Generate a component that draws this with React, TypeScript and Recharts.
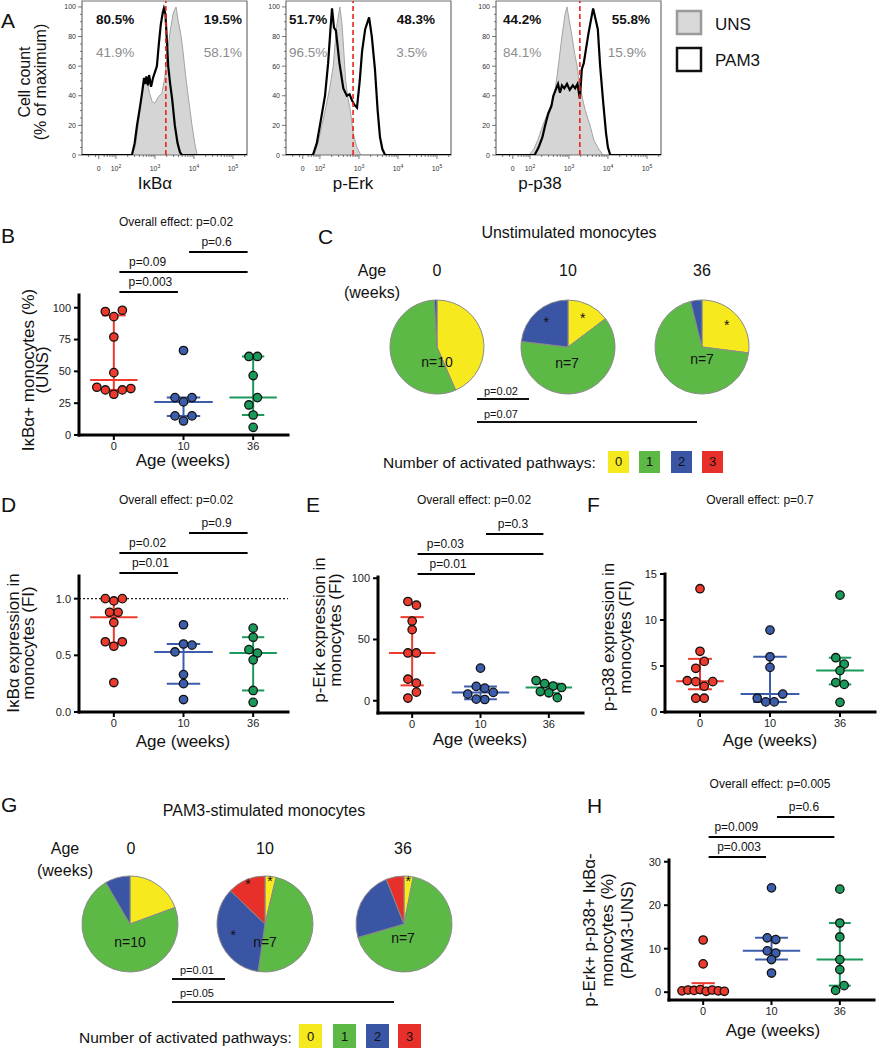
import React from "react";
import {
  ComposedChart,
  Area,
  Line,
  XAxis,
  YAxis,
  ReferenceLine,
  ReferenceArea,
  ScatterChart,
  Scatter,
  PieChart,
  Pie,
  Cell,
} from "recharts";

const FONT = "'Liberation Sans', Arial, Helvetica, sans-serif";

// age groups
const AGES = ["0", "10", "36"];
const AGE_COLORS = ["#ee3a2c", "#3c5dab", "#1a9a5a"];

// pathway legend
const PATHWAYS = ["0", "1", "2", "3"];
const PATHWAY_COLORS = ["#f6ea1e", "#5db946", "#3b55a5", "#e7302a"];

// ---- A: flow histograms, [log10 intensity, % of max]
const IKBA_UNS = [[1.13, 0], [2.41, 0], [2.5, 6], [2.57, 20], [2.65, 38], [2.72, 48], [2.79, 51], [2.86, 42], [2.93, 36], [3.0, 35], [3.08, 39], [3.18, 42], [3.25, 52], [3.32, 70], [3.4, 85], [3.47, 96], [3.54, 100], [3.6, 90], [3.66, 82], [3.72, 70], [3.78, 55], [3.84, 42], [3.9, 30], [3.95, 20], [4.02, 8], [4.08, 0], [5.36, 0]];
const IKBA_PAM3 = [[1.13, 0], [2.41, 0], [2.48, 8], [2.54, 20], [2.62, 33], [2.67, 42], [2.72, 52], [2.75, 48], [2.78, 53], [2.82, 47], [2.85, 54], [2.9, 46], [2.95, 52], [3.0, 56], [3.05, 60], [3.1, 75], [3.15, 88], [3.2, 96], [3.23, 99], [3.27, 95], [3.3, 80], [3.34, 60], [3.39, 48], [3.44, 38], [3.51, 20], [3.58, 8], [3.64, 2], [3.69, 0], [5.36, 0]];
const ERK_UNS = [[1.13, 0], [1.85, 0], [1.95, 8], [2.05, 20], [2.15, 32], [2.25, 45], [2.34, 60], [2.42, 85], [2.51, 100], [2.56, 90], [2.6, 75], [2.66, 50], [2.72, 38], [2.78, 30], [2.85, 15], [2.95, 5], [3.05, 0], [5.36, 0]];
const ERK_PAM3 = [[1.13, 0], [1.82, 0], [1.92, 8], [2.0, 20], [2.13, 40], [2.21, 62], [2.27, 85], [2.31, 99], [2.36, 86], [2.41, 84], [2.5, 62], [2.6, 45], [2.69, 40], [2.76, 41], [2.82, 37], [2.88, 34], [2.95, 32], [3.02, 50], [3.08, 70], [3.16, 85], [3.26, 93], [3.33, 80], [3.41, 58], [3.48, 30], [3.54, 12], [3.6, 4], [3.67, 0], [5.36, 0]];
const P38_UNS = [[1.13, 0], [1.98, 0], [2.1, 4], [2.2, 10], [2.33, 20], [2.48, 30], [2.6, 38], [2.68, 50], [2.75, 65], [2.82, 80], [2.9, 95], [2.95, 100], [3.0, 92], [3.08, 80], [3.15, 68], [3.21, 60], [3.27, 48], [3.33, 40], [3.42, 30], [3.54, 20], [3.64, 10], [3.74, 5], [3.87, 0], [5.36, 0]];
const P38_PAM3 = [[1.13, 0], [2.12, 0], [2.22, 5], [2.32, 12], [2.39, 20], [2.47, 28], [2.55, 33], [2.6, 40], [2.66, 44], [2.72, 48], [2.77, 42], [2.82, 47], [2.88, 45], [2.95, 48], [3.02, 44], [3.1, 47], [3.16, 45], [3.22, 48], [3.28, 38], [3.33, 58], [3.38, 62], [3.44, 72], [3.5, 82], [3.57, 92], [3.62, 99], [3.68, 92], [3.74, 85], [3.8, 60], [3.88, 35], [3.95, 15], [4.0, 5], [4.06, 0], [5.36, 0]];
const HIST_GATES = [3.28, 2.85, 3.28];
const HIST_TITLES = ["IκBα", "p-Erk", "p-p38"];
const PAM3_LEFT = ["80.5%", "51.7%", "44.2%"];
const PAM3_RIGHT = ["19.5%", "48.3%", "55.8%"];
const UNS_LEFT = ["41.9%", "96.5%", "84.1%"];
const UNS_RIGHT = ["58.1%", "3.5%", "15.9%"];
const HIST_Y_TICKS = [0, 20, 40, 60, 80, 100];
const HIST_X_TICKS = [1.56, 2, 3, 4, 5];
const HIST_X_LABELS = ["0", "2", "3", "4", "5"];

// ---- B: IkBa+ monocytes (%), UNS
const B_0 = [97, 93, 98, 77, 49, 37.5, 35.4, 32, 35.4, 36.5];
const B_10 = [66.4, 29.4, 26, 29.4, 15, 11, 15];
const B_36 = [61.7, 61.7, 46.7, 23.6, 29.4, 15.7, 6];

// ---- D: IkBa expression (FI)
const D_0 = [1.0, 0.98, 1.0, 0.88, 0.88, 0.79, 0.62, 0.58, 0.62, 0.26];
const D_10 = [0.77, 0.53, 0.6, 0.59, 0.33, 0.25, 0.11];
const D_36 = [0.74, 0.66, 0.46, 0.55, 0.52, 0.19, 0.085];

// ---- E: p-Erk expression (FI)
const E_0 = [81, 78, 65, 58, 39, 39, 17.6, 14.4, 2.2, 7];
const E_10 = [26.6, 5.4, 11.7, 10.3, 6.8, 1.3, 1.0];
const E_36 = [16.5, 14, 12, 10.8, 7.5, 6.5, 2.5];

// ---- F: p-p38 expression (FI)
const F_0 = [13.4, 6.6, 4.75, 5.5, 3.4, 3.3, 2.8, 3.3, 1.5, 1.5];
const F_10 = [8.9, 6.0, 4.85, 1.5, 1.1, 1.1, 1.95];
const F_36 = [12.7, 5.9, 5.2, 4.5, 3.2, 3.0, 1.05];

// ---- H: p-Erk+ p-p38+ IkBa- monocytes (%), PAM3-UNS
const H_0 = [12, 6.5, 0.3, 0.5, 0.4, 0.6, 0.2, 0.5, 0.3, 0.2];
const H_10 = [24, 12.5, 12.1, 9.5, 9.0, 7.5, 4.4];
const H_36 = [23.7, 15.9, 12.7, 7.5, 5.2, 0.4, 1.5];

// ---- C / G: % of cells by number of activated pathways (0,1,2,3)
const C_PIE_0 = [43.5, 55.6, 0.9, 0];
const C_PIE_10 = [14.7, 62.2, 23.1, 0];
const C_PIE_36 = [27.0, 69.1, 3.9, 0];
const C_STARS = [[], [0, 2], [0]];
const G_PIE_0 = [19.4, 72.2, 8.4, 0];
const G_PIE_10 = [3.7, 48.6, 34.9, 12.8];
const G_PIE_36 = [3.1, 67.4, 23.5, 6.0];
const G_STARS = [[], [0, 2, 3], [0]];
const PIE_N = [10, 7, 7];

const DOT_D = 8.5;
const SIG_RISE = [3, 23, 43];
const MEDIAN_HALF = [0.34, 0.42, 0.34];
const CAP_HALF = [0.17, 0.24, 0.16];

const AXIS_LINE = { stroke: "#000", strokeWidth: 3, strokeLinecap: "square" };
const TICK_LINE = { stroke: "#000", strokeWidth: 2 };
const TICK_STYLE = { fontSize: 11, fill: "#222", fontFamily: FONT };

function quantile(s: number[], p: number) {
  const n = s.length;
  const pos = p * (n + 1);
  if (pos <= 1) return s[0];
  if (pos >= n) return s[n - 1];
  const lo = Math.floor(pos);
  return s[lo - 1] + (pos - lo) * (s[lo] - s[lo - 1]);
}

function stats(vals: number[]) {
  const s = [...vals].sort((a, b) => a - b);
  return { med: quantile(s, 0.5), q1: quantile(s, 0.25), q3: quantile(s, 0.75) };
}

// prism-like rows: values close in y are spread sideways
function swarm(vals: number[], gi: number, pxY: number, band: number) {
  const order = vals.map((_, i) => i).sort((a, b) => vals[b] - vals[a]);
  const rows: number[][] = [];
  let first = Infinity;
  for (const i of order) {
    if (!rows.length || (first - vals[i]) * pxY > DOT_D) {
      rows.push([i]);
      first = vals[i];
    } else rows[rows.length - 1].push(i);
  }
  const pts: { x: number; y: number }[] = [];
  rows.forEach((row) => {
    row.sort((a, b) => a - b);
    const n = row.length;
    const step = n > 1 ? Math.min(DOT_D, (band * 0.62) / (n - 1)) : 0;
    row.forEach((i, k) => pts.push({ x: gi + ((k - (n - 1) / 2) * step) / band, y: vals[i] }));
  });
  return pts;
}

const sigLabel = (text: string, at: number) => (props: any) => {
  const vb = props.viewBox || { x: 0, y: 0, width: 0 };
  return (
    <text x={vb.x + vb.width * at} y={vb.y - 6} textAnchor="middle" fontSize={12} fill="#111" fontFamily={FONT}>
      {text}
    </text>
  );
};

function DotPlot({ axisX, plotTop, plotBottom, plotRight, domain, ticks, fmt, groups, sig = [], refY }: any) {
  const yW = 44;
  const xH = 26;
  const head = 70;
  const plotW = plotRight - axisX;
  const plotH = plotBottom - plotTop;
  const width = yW + plotW + 3;
  const height = head + plotH + xH;
  const pxY = plotH / (domain[1] - domain[0]);
  const band = plotW / 3;
  const lvl = (k: number) => domain[1] + SIG_RISE[k] / pxY;

  return (
    <div style={{ position: "absolute", left: axisX - yW, top: plotTop - head }}>
      <ScatterChart width={width} height={height} margin={{ top: head, right: 3, bottom: 0, left: 0 }}>
        <XAxis
          type="number"
          dataKey="x"
          domain={[-0.5, 2.5]}
          ticks={[0, 1, 2]}
          interval={0}
          allowDataOverflow
          tickFormatter={(v: number) => AGES[v]}
          height={xH}
          axisLine={AXIS_LINE}
          tickLine={TICK_LINE}
          tickSize={5}
          tickMargin={2}
          tick={TICK_STYLE}
        />
        <YAxis
          type="number"
          dataKey="y"
          domain={domain}
          ticks={ticks}
          interval={0}
          allowDataOverflow
          tickFormatter={fmt}
          width={yW}
          axisLine={AXIS_LINE}
          tickLine={TICK_LINE}
          tickSize={5}
          tickMargin={3}
          tick={TICK_STYLE}
        />
        {refY !== undefined && (
          <ReferenceLine y={refY} stroke="#222" strokeDasharray="2 2" strokeWidth={1.2} />
        )}
        {groups.map((vals: number[], gi: number) => {
          const s = stats(vals);
          const c = AGE_COLORS[gi];
          return (
            <React.Fragment key={"st" + gi}>
              <ReferenceLine segment={[{ x: gi, y: s.q1 }, { x: gi, y: s.q3 }]} stroke={c} strokeWidth={2} />
              <ReferenceLine segment={[{ x: gi - CAP_HALF[gi], y: s.q1 }, { x: gi + CAP_HALF[gi], y: s.q1 }]} stroke={c} strokeWidth={2} />
              <ReferenceLine segment={[{ x: gi - CAP_HALF[gi], y: s.q3 }, { x: gi + CAP_HALF[gi], y: s.q3 }]} stroke={c} strokeWidth={2} />
              <ReferenceLine segment={[{ x: gi - MEDIAN_HALF[gi], y: s.med }, { x: gi + MEDIAN_HALF[gi], y: s.med }]} stroke={c} strokeWidth={2} />
            </React.Fragment>
          );
        })}
        {sig.map((b: any, i: number) => (
          <ReferenceLine
            key={"sig" + i}
            segment={[{ x: b.from + 0.08, y: lvl(b.level) }, { x: b.to - 0.08, y: lvl(b.level) }]}
            stroke="#000"
            strokeWidth={2}
            ifOverflow="visible"
            label={sigLabel(b.text, b.at)}
          />
        ))}
        {groups.map((vals: number[], gi: number) => (
          <Scatter
            key={"sc" + gi}
            data={swarm(vals, gi, pxY, band)}
            isAnimationActive={false}
            shape={(p: any) => (
              <circle cx={p.cx} cy={p.cy} r={4.2} fill={AGE_COLORS[gi]} stroke="#111" strokeWidth={1.3} />
            )}
          />
        ))}
      </ScatterChart>
    </div>
  );
}

const toPts = (arr: number[][]) => arr.map(([x, y]) => ({ x, y }));

const HIST_Y_ALL = [0, 5, 10, 15, 20, 25, 30, 35, 40, 45, 50, 55, 60, 65, 70, 75, 80, 85, 90, 95, 100];
const HIST_X_MINOR = [1, 2, 3, 4, 5]
  .flatMap((d) => [2, 3, 4, 5, 6, 7, 8, 9].map((k) => d + Math.log10(k)))
  .filter((v) => v > 1.16 && v < 5.34 && Math.abs(v - 1.56) > 0.06);
const HIST_X_ALL = [...HIST_X_TICKS, ...HIST_X_MINOR].sort((a, b) => a - b);

function HistYTick({ x, y, payload }: any) {
  const major = HIST_Y_TICKS.includes(payload.value);
  return (
    <g>
      <line x1={x - (major ? 4 : 2)} x2={x} y1={y} y2={y} stroke="#555" strokeWidth={0.8} />
      {major && (
        <text x={x - 6} y={y + 2.5} textAnchor="end" fontSize={7} fill="#333" fontFamily={FONT}>
          {payload.value}
        </text>
      )}
    </g>
  );
}

function HistXTick({ x, y, payload }: any) {
  const i = HIST_X_TICKS.indexOf(payload.value);
  const lab = i >= 0 ? HIST_X_LABELS[i] : null;
  return (
    <g>
      <line x1={x} x2={x} y1={y} y2={y + (lab ? 4 : 2)} stroke="#555" strokeWidth={0.8} />
      {lab && (
        <text x={x} y={y + 16} textAnchor="middle" fontSize={7} fill="#333" fontFamily={FONT}>
          {lab === "0" ? "0" : (
            <>
              10<tspan dy={-3.5} fontSize={5}>{lab}</tspan>
            </>
          )}
        </text>
      )}
    </g>
  );
}

function Histogram({ left, uns, pam3, gate }: any) {
  const yW = 22;
  const plotW = 165;
  const plotH = 154;
  const xH = 20;
  return (
    <div style={{ position: "absolute", left: left - yW, top: 0 }}>
      <ComposedChart
        width={yW + plotW + 4}
        height={1 + plotH + xH}
        data={toPts(uns)}
        margin={{ top: 1, right: 4, left: 0, bottom: 0 }}
      >
        <XAxis
          type="number"
          dataKey="x"
          domain={[1.13, 5.36]}
          ticks={HIST_X_ALL}
          interval={0}
          allowDataOverflow
          height={xH}
          axisLine={false}
          tickLine={false}
          tickSize={0}
          tickMargin={0}
          tick={<HistXTick />}
        />
        <YAxis
          type="number"
          domain={[0, 104]}
          ticks={HIST_Y_ALL}
          interval={0}
          allowDataOverflow
          width={yW}
          axisLine={false}
          tickLine={false}
          tickSize={0}
          tickMargin={0}
          tick={<HistYTick />}
        />
        <Area
          type="linear"
          dataKey="y"
          fill="#d5d5d5"
          fillOpacity={1}
          stroke="#a3a3a3"
          strokeWidth={1}
          isAnimationActive={false}
        />
        <Line
          type="linear"
          data={toPts(pam3)}
          dataKey="y"
          stroke="#000"
          strokeWidth={2.2}
          dot={false}
          isAnimationActive={false}
        />
        <ReferenceLine x={gate} stroke="#e8231e" strokeDasharray="5 3" strokeWidth={1.6} />
        <ReferenceArea x1={1.13} x2={5.36} y1={0} y2={104} fill="none" stroke="#707070" strokeWidth={1.2} />
      </ComposedChart>
    </div>
  );
}

function starLabel(lp: any, data: any[]) {
  const d = data[lp.index];
  if (!d || !d.star) return null;
  const rad = Math.PI / 180;
  const rr = lp.outerRadius * (d.value < 13 ? 0.9 : 0.7);
  const x = lp.cx + rr * Math.cos(-lp.midAngle * rad);
  const y = lp.cy + rr * Math.sin(-lp.midAngle * rad);
  return (
    <text x={x} y={y + 5} textAnchor="middle" fontSize={14} fill="#111" fontFamily={FONT}>
      *
    </text>
  );
}

function PieRow({ left, top, width, height, centers, cy, r, sets, stars }: any) {
  return (
    <div style={{ position: "absolute", left, top }}>
      <PieChart width={width} height={height} margin={{ top: 0, right: 0, bottom: 0, left: 0 }}>
        {sets.map((vals: number[], pi: number) => {
          const data = vals
            .map((v, k) => ({ name: PATHWAYS[k], value: v, k, star: stars[pi].includes(k) }))
            .filter((d) => d.value > 0);
          return (
            <Pie
              key={pi}
              data={data}
              dataKey="value"
              cx={centers[pi]}
              cy={cy}
              outerRadius={r}
              startAngle={90}
              endAngle={-270}
              stroke="#8a8a8a"
              strokeWidth={1}
              isAnimationActive={false}
              labelLine={false}
              label={(lp: any) => starLabel(lp, data)}
            >
              {data.map((d) => (
                <Cell key={d.k} fill={PATHWAY_COLORS[d.k]} />
              ))}
            </Pie>
          );
        })}
      </PieChart>
    </div>
  );
}

function VText({ x, y, size = 17, children }: any) {
  return (
    <text transform={`translate(${x},${y}) rotate(-90)`} textAnchor="middle" fontSize={size} fill="#111">
      {children}
    </text>
  );
}

function PathwayLegend({ x, y, boxes, w, h, size }: any) {
  return (
    <g>
      <text x={x} y={y} fontSize={size} fill="#111">
        Number of activated pathways:
      </text>
      {boxes.map((bx: number, k: number) => (
        <g key={k}>
          <rect x={bx} y={y - h + 5} width={w} height={h} fill={PATHWAY_COLORS[k]} />
          <text x={bx + w / 2} y={y - 2} textAnchor="middle" fontSize={13} fill="#111">
            {PATHWAYS[k]}
          </text>
        </g>
      ))}
    </g>
  );
}

const HIST_LEFT = [82, 286, 496];
const HIST_PCT_L = [96, 289, 503];
const HIST_PCT_R = [242, 435, 650];
const HIST_UNS_R = [242, 427, 646];
const HIST_TITLE_X = [155, 353, 540];

function Overlay() {
  return (
    <svg
      width={877}
      height={1050}
      style={{ position: "absolute", left: 0, top: 0, pointerEvents: "none" }}
      fontFamily={FONT}
    >
      {/* panel letters */}
      {[["A", 1, 28], ["B", 1, 243], ["C", 318, 244], ["D", 1, 512], ["E", 306, 512], ["F", 587, 512], ["G", 1, 812], ["H", 587, 813]].map(
        ([t, x, y]: any) => (
          <text key={t} x={x} y={y} fontSize={21} fill="#111">
            {t}
          </text>
        )
      )}

      {/* A */}
      <VText x={30} y={82} size={16}>Cell count</VText>
      <VText x={46} y={82} size={16}>(% of maximum)</VText>
      {HIST_LEFT.map((_, i) => (
        <g key={i}>
          <text x={HIST_PCT_L[i]} y={24} fontSize={13.5} fontWeight="bold" fill="#111">{PAM3_LEFT[i]}</text>
          <text x={HIST_PCT_R[i]} y={24} fontSize={13.5} fontWeight="bold" fill="#111" textAnchor="end">{PAM3_RIGHT[i]}</text>
          <text x={HIST_PCT_L[i]} y={57} fontSize={13.5} fill="#8c8c8c">{UNS_LEFT[i]}</text>
          <text x={HIST_UNS_R[i]} y={57} fontSize={13.5} fill="#8c8c8c" textAnchor="end">{UNS_RIGHT[i]}</text>
          <text x={HIST_TITLE_X[i]} y={189} fontSize={17} fill="#111" textAnchor="middle">{HIST_TITLES[i]}</text>
        </g>
      ))}
      <rect x={677} y={11} width={24} height={23} fill="#d9d9d9" stroke="#9a9a9a" strokeWidth={2.5} />
      <rect x={677} y={48} width={24} height={23} fill="#fff" stroke="#111" strokeWidth={2.5} />
      <text x={715} y={30} fontSize={17} fill="#111">UNS</text>
      <text x={715} y={66} fontSize={17} fill="#111">PAM3</text>

      {/* overall effects */}
      <text x={176} y={226} fontSize={12} textAnchor="middle" fill="#111">Overall effect: p=0.02</text>
      <text x={176} y={504} fontSize={12} textAnchor="middle" fill="#111">Overall effect: p=0.02</text>
      <text x={474} y={504} fontSize={12} textAnchor="middle" fill="#111">Overall effect: p=0.02</text>
      <text x={760} y={504} fontSize={12} textAnchor="middle" fill="#111">Overall effect: p=0.7</text>
      <text x={770} y={788} fontSize={12} textAnchor="middle" fill="#111">Overall effect: p=0.005</text>

      {/* y titles */}
      <VText x={34} y={370}>IκBα+ monocytes (%)</VText>
      <VText x={48} y={370}>(UNS)</VText>
      <VText x={19} y={643}>IκBα expression in</VText>
      <VText x={34} y={643}>monocytes (FI)</VText>
      <VText x={325} y={630}>p-Erk expression in</VText>
      <VText x={341} y={630}>monocytes (FI)</VText>
      <VText x={614} y={637}>p-p38 expression in</VText>
      <VText x={631} y={637}>monocytes (FI)</VText>
      <VText x={595} y={930}>p-Erk+ p-p38+ IκBα-</VText>
      <VText x={613} y={930}>monocytes (%)</VText>
      <VText x={633} y={930}>(PAM3-UNS)</VText>

      {/* x titles */}
      {[[183, 466], [183, 747], [480, 745], [770, 746], [773, 1036]].map(([x, y], i) => (
        <text key={i} x={x} y={y} fontSize={17} textAnchor="middle" fill="#111">Age (weeks)</text>
      ))}

      {/* C */}
      <text x={569} y={238} fontSize={16} textAnchor="middle" fill="#111">Unstimulated monocytes</text>
      <text x={372} y={276} fontSize={16} textAnchor="middle" fill="#111">Age</text>
      <text x={372} y={298} fontSize={16} textAnchor="middle" fill="#111">(weeks)</text>
      {[437, 568, 702].map((x, i) => (
        <text key={i} x={x} y={276} fontSize={16} textAnchor="middle" fill="#111">{AGES[i]}</text>
      ))}
      {[[437, 367], [567, 368], [702, 364]].map(([x, y], i) => (
        <text key={i} x={x} y={y} fontSize={14} textAnchor="middle" fill="#111">{`n=${PIE_N[i]}`}</text>
      ))}
      <text x={484} y={395} fontSize={11} fill="#111">p=0.02</text>
      <line x1={477} x2={529} y1={399} y2={399} stroke="#111" strokeWidth={1.8} />
      <text x={484} y={418} fontSize={11} fill="#111">p=0.07</text>
      <line x1={477} x2={697} y1={422} y2={422} stroke="#111" strokeWidth={1.8} />
      <PathwayLegend x={383} y={468} boxes={[608, 639, 671, 702]} w={21} h={22} size={15.5} />

      {/* G */}
      <text x={264} y={816} fontSize={16} textAnchor="middle" fill="#111">PAM3-stimulated monocytes</text>
      <text x={65} y={854} fontSize={16} textAnchor="middle" fill="#111">Age</text>
      <text x={65} y={876} fontSize={16} textAnchor="middle" fill="#111">(weeks)</text>
      {[131, 265, 403].map((x, i) => (
        <text key={i} x={x} y={854} fontSize={16} textAnchor="middle" fill="#111">{AGES[i]}</text>
      ))}
      {[[130, 947], [265, 947], [403, 943]].map(([x, y], i) => (
        <text key={i} x={x} y={y} fontSize={14} textAnchor="middle" fill="#111">{`n=${PIE_N[i]}`}</text>
      ))}
      <text x={180} y={974} fontSize={11} fill="#111">p=0.01</text>
      <line x1={172} x2={225} y1={979} y2={979} stroke="#111" strokeWidth={1.8} />
      <text x={180} y={997} fontSize={11} fill="#111">p=0.05</text>
      <line x1={172} x2={394} y1={1002} y2={1002} stroke="#111" strokeWidth={1.8} />
      <PathwayLegend x={79} y={1043} boxes={[299, 333, 366, 398]} w={23} h={24} size={15.5} />
    </svg>
  );
}

const SIG_BCD = (a: string, b: string, c: string) => [
  { from: 0, to: 1, level: 0, text: a, at: 0.53 },
  { from: 0, to: 2, level: 1, text: b, at: 0.22 },
  { from: 1, to: 2, level: 2, text: c, at: 0.47 },
];

export default function App() {
  const hists = [
    [IKBA_UNS, IKBA_PAM3],
    [ERK_UNS, ERK_PAM3],
    [P38_UNS, P38_PAM3],
  ];
  return (
    <div
      style={{
        position: "absolute",
        left: 0,
        top: 0,
        width: 877,
        height: 1050,
        background: "#fff",
        overflow: "hidden",
        fontFamily: FONT,
      }}
    >
      {hists.map(([u, p], i) => (
        <Histogram key={i} left={HIST_LEFT[i]} uns={u} pam3={p} gate={HIST_GATES[i]} />
      ))}

      <DotPlot
        axisX={79}
        plotTop={295}
        plotBottom={435}
        plotRight={288}
        domain={[0, 110]}
        ticks={[0, 25, 50, 75, 100]}
        groups={[B_0, B_10, B_36]}
        sig={SIG_BCD("p=0.003", "p=0.09", "p=0.6")}
      />
      <DotPlot
        axisX={79}
        plotTop={576}
        plotBottom={712}
        plotRight={288}
        domain={[0, 1.2]}
        ticks={[0, 0.5, 1]}
        fmt={(v: number) => v.toFixed(1)}
        groups={[D_0, D_10, D_36]}
        refY={1}
        sig={SIG_BCD("p=0.01", "p=0.02", "p=0.9")}
      />
      <DotPlot
        axisX={378}
        plotTop={577}
        plotBottom={713}
        plotRight={583}
        domain={[-10, 101]}
        ticks={[0, 50, 100]}
        groups={[E_0, E_10, E_36]}
        sig={SIG_BCD("p=0.01", "p=0.03", "p=0.3")}
      />
      <DotPlot
        axisX={665}
        plotTop={574}
        plotBottom={712}
        plotRight={875}
        domain={[0, 15]}
        ticks={[0, 5, 10, 15]}
        groups={[F_0, F_10, F_36]}
      />
      <DotPlot
        axisX={669}
        plotTop={860}
        plotBottom={1000}
        plotRight={874}
        domain={[-1.8, 30.4]}
        ticks={[0, 10, 20, 30]}
        groups={[H_0, H_10, H_36]}
        sig={SIG_BCD("p=0.003", "p=0.009", "p=0.6")}
      />

      <PieRow
        left={380}
        top={295}
        width={380}
        height={105}
        centers={[57, 188, 322]}
        cy={52}
        r={47}
        sets={[C_PIE_0, C_PIE_10, C_PIE_36]}
        stars={C_STARS}
      />
      <PieRow
        left={70}
        top={870}
        width={400}
        height={110}
        centers={[60, 195, 334]}
        cy={54}
        r={48}
        sets={[G_PIE_0, G_PIE_10, G_PIE_36]}
        stars={G_STARS}
      />

      <Overlay />
    </div>
  );
}
